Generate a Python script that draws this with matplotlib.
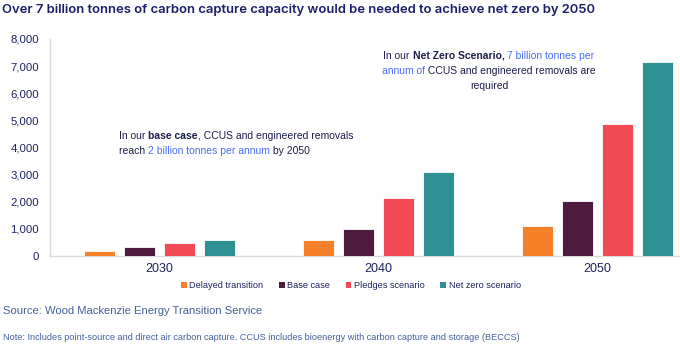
"""Grouped bars: carbon capture capacity by scenario, 2030-2050."""

import matplotlib

matplotlib.use("Agg")
import matplotlib.pyplot as plt
import numpy as np
from matplotlib.offsetbox import AnnotationBbox, HPacker, TextArea, VPacker
from matplotlib.patches import Patch

years = ["2030", "2040", "2050"]
scenarios = ["Delayed transition", "Base case", "Pledges scenario", "Net zero scenario"]
delayed = [200, 605, 1120]
base_case = [335, 1010, 2045]
pledges = [495, 2155, 4850]
net_zero = [590, 3080, 7150]
y_ticks = [0, 1000, 2000, 3000, 4000, 5000, 6000, 7000, 8000]

COLORS = ["#F5802A", "#4E1A3D", "#F04A55", "#2E9093"]
NAVY = "#1E2260"
TITLE_NAVY = "#1B1E6A"
TEXT_DARK = "#1C1F4A"
BLUE = "#4A6EF5"
GREY_NAVY = "#44609A"

plt.rcParams["font.family"] = ["Liberation Sans", "DejaVu Sans"]

fig = plt.figure(figsize=(6.8, 3.45), dpi=100)
ax = fig.add_axes([50 / 680, 89 / 345, 630 / 680, 217 / 345])

x = np.arange(len(years))
step = 0.1826
width = 0.1416
series = [delayed, base_case, pledges, net_zero]
for i, (vals, color) in enumerate(zip(series, COLORS)):
    ax.bar(x + (i - 1.5) * step, vals, width, color=color,
           edgecolor="white", linewidth=0.6, zorder=3)

ax.set_xlim(-0.5, 2.377)
ax.set_ylim(0, 8000)
ax.set_yticks(y_ticks)
ax.set_yticklabels([f"{v:,}" for v in y_ticks])
ax.set_xticks(x)
ax.set_xticklabels(years)
ax.tick_params(axis="y", length=0, pad=8, labelsize=8.2, labelcolor=NAVY)
ax.tick_params(axis="x", length=0, pad=5, labelsize=9, labelcolor=NAVY)
for side in ("top", "right"):
    ax.spines[side].set_visible(False)
for side in ("left", "bottom"):
    ax.spines[side].set_color("#D9D9D9")
    ax.spines[side].set_linewidth(1.0)

fig.text(2 / 680, 1 - 10 / 345,
         "Over 7 billion tonnes of carbon capture capacity would be needed to achieve net zero by 2050",
         fontsize=9.4, fontweight="semibold", color=TITLE_NAVY,
         family=["Inter", "DejaVu Sans"], va="center", ha="left")


def rich_block(lines, xy, align, box_alignment):
    rows = []
    for runs in lines:
        areas = [TextArea(txt, textprops=dict(color=col, fontweight=wt, fontsize=7.5))
                 for txt, wt, col in runs]
        rows.append(HPacker(children=areas, pad=0, sep=0, align="baseline"))
    block = VPacker(children=rows, pad=0, sep=3.5, align=align)
    ab = AnnotationBbox(block, xy, xycoords="figure pixels", frameon=False,
                        box_alignment=box_alignment, pad=0)
    fig.add_artist(ab)


rich_block(
    [
        [("In our ", "normal", TEXT_DARK), ("base case", "bold", TEXT_DARK),
         (", CCUS and engineered removals", "normal", TEXT_DARK)],
        [("reach ", "normal", TEXT_DARK), ("2 billion tonnes per annum", "normal", BLUE),
         (" by 2050", "normal", TEXT_DARK)],
    ],
    (119, 345 - 131), "left", (0, 1),
)
rich_block(
    [
        [("In our ", "normal", TEXT_DARK), ("Net Zero Scenario,", "bold", TEXT_DARK),
         (" 7 billion tonnes per", "normal", BLUE)],
        [("annum of", "normal", BLUE), (" CCUS and engineered removals are", "normal", TEXT_DARK)],
        [("required", "normal", TEXT_DARK)],
    ],
    (489, 345 - 51), "center", (0.5, 1),
)

handles = [Patch(facecolor=c, edgecolor="none", label=s) for c, s in zip(COLORS, scenarios)]
fig.legend(handles=handles, loc="center", bbox_to_anchor=(351 / 680, 1 - 286 / 345),
           ncol=4, frameon=False, fontsize=6.6, handlelength=0.6, handleheight=0.6,
           handletextpad=0.3, columnspacing=1.7, labelcolor=NAVY)

fig.text(3 / 680, 1 - 311 / 345, "Source: Wood Mackenzie Energy Transition Service",
         fontsize=8.1, color=GREY_NAVY, va="center", ha="left")
fig.text(3 / 680, 1 - 337 / 345,
         "Note: Includes point-source and direct air carbon capture. CCUS includes bioenergy "
         "with carbon capture and storage (BECCS)",
         fontsize=6.6, color=GREY_NAVY, va="center", ha="left")

fig.savefig("out.png", dpi=100, facecolor="white")
